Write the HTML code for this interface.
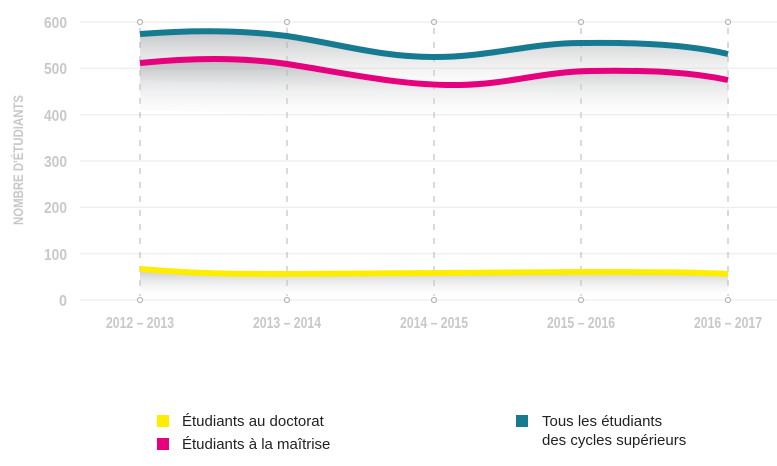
<!DOCTYPE html><html><head><style>body{margin:0;background:#fff}svg{display:block}</style></head><body>
<svg width="777" height="466" viewBox="0 0 777 466" xmlns="http://www.w3.org/2000/svg">
<defs>
<linearGradient id="sh" x1="0" y1="0" x2="0" y2="1"><stop offset="0" stop-color="#9a9ca0" stop-opacity=".6"/><stop offset="1" stop-color="#fff" stop-opacity="0"/></linearGradient>
</defs>
<g stroke="#e8e8e8" stroke-width="1">
<line x1="80" x2="777" y1="22" y2="22"/><line x1="80" x2="777" y1="68.3" y2="68.3"/><line x1="80" x2="777" y1="114.7" y2="114.7"/><line x1="80" x2="777" y1="161" y2="161"/><line x1="80" x2="777" y1="207.3" y2="207.3"/><line x1="80" x2="777" y1="253.7" y2="253.7"/><line x1="80" x2="777" y1="300" y2="300"/>
</g>
<g stroke="#b5b5b5" stroke-width="1" stroke-dasharray="6,8">
<line x1="140" x2="140" y1="28" y2="296"/><line x1="287" x2="287" y1="28" y2="296"/><line x1="434" x2="434" y1="28" y2="296"/><line x1="581" x2="581" y1="28" y2="296"/><line x1="728" x2="728" y1="28" y2="296"/>
</g>
<g fill="#fff" stroke="#b5b5b5" stroke-width="1.2">
<circle cx="140" cy="22" r="2.5"/><circle cx="287" cy="22" r="2.5"/><circle cx="434" cy="22" r="2.5"/><circle cx="581" cy="22" r="2.5"/><circle cx="728" cy="22" r="2.5"/>
<circle cx="140" cy="300" r="2.5"/><circle cx="287" cy="300" r="2.5"/><circle cx="434" cy="300" r="2.5"/><circle cx="581" cy="300" r="2.5"/><circle cx="728" cy="300" r="2.5"/>
</g>
<g font-family="Liberation Sans, sans-serif" font-weight="bold" font-size="16" fill="#c8c8c8" lengthAdjust="spacingAndGlyphs">
<g text-anchor="end"><text x="67" y="28" textLength="23" lengthAdjust="spacingAndGlyphs">600</text><text x="67" y="74" textLength="23" lengthAdjust="spacingAndGlyphs">500</text><text x="67" y="121" textLength="23" lengthAdjust="spacingAndGlyphs">400</text><text x="67" y="167" textLength="23" lengthAdjust="spacingAndGlyphs">300</text><text x="67" y="213" textLength="23" lengthAdjust="spacingAndGlyphs">200</text><text x="67" y="260" textLength="23" lengthAdjust="spacingAndGlyphs">100</text><text x="67" y="306" textLength="8" lengthAdjust="spacingAndGlyphs">0</text></g>
<g text-anchor="middle"><text x="140" y="328" textLength="68" lengthAdjust="spacingAndGlyphs">2012 – 2013</text><text x="287" y="328" textLength="68" lengthAdjust="spacingAndGlyphs">2013 – 2014</text><text x="434" y="328" textLength="68" lengthAdjust="spacingAndGlyphs">2014 – 2015</text><text x="581" y="328" textLength="68" lengthAdjust="spacingAndGlyphs">2015 – 2016</text><text x="728" y="328" textLength="68" lengthAdjust="spacingAndGlyphs">2016 – 2017</text></g>
<text transform="translate(23,160) rotate(-90)" text-anchor="middle" font-size="14" textLength="130" lengthAdjust="spacingAndGlyphs">NOMBRE D'ÉTUDIANTS</text>
</g>
<path d="M140,34 C190,30 240,30 287,36 C340,44 380,57 434,57 C490,57 530,43 581,43 C640,42 690,45 728,54 L728,100 L140,80Z" fill="url(#sh)"/>
<path d="M140,63 C190,58 240,57 287,64 C340,72 400,86 460,85 C510,84 540,72 590,71 C650,70 690,72 728,80 L728,125 L140,110Z" fill="url(#sh)"/>
<path d="M140,268 C200,273 240,273 287,273 L581,271 C650,271 690,271 728,273 L728,300 L140,300Z" fill="url(#sh)"/>
<g fill="none" stroke-width="6" stroke-linecap="butt">
<path d="M140,34 C190,30 240,30 287,36 C340,44 380,57 434,57 C490,57 530,43 581,43 C640,42 690,45 728,54" stroke="#167a91"/>
<path d="M140,63 C190,58 240,57 287,64 C340,72 400,86 460,85 C510,84 540,72 590,71 C650,70 690,72 728,80" stroke="#e6007e"/>
<path d="M140,269 C200,274 240,274 287,274 L581,272 C650,272 690,272 728,274" stroke="#ffed00"/>
</g>
<g font-family="Liberation Sans, sans-serif" font-size="15" fill="#222">
<rect x="157" y="415" width="12" height="12" fill="#ffed00"/><text x="182" y="426">Étudiants au doctorat</text>
<rect x="157" y="438" width="12" height="12" fill="#e6007e"/><text x="182" y="449">Étudiants à la maîtrise</text>
<rect x="516" y="415" width="12" height="12" fill="#167a91"/><text x="542" y="426">Tous les étudiants</text><text x="542" y="445">des cycles supérieurs</text>
</g>
</svg></body></html>
